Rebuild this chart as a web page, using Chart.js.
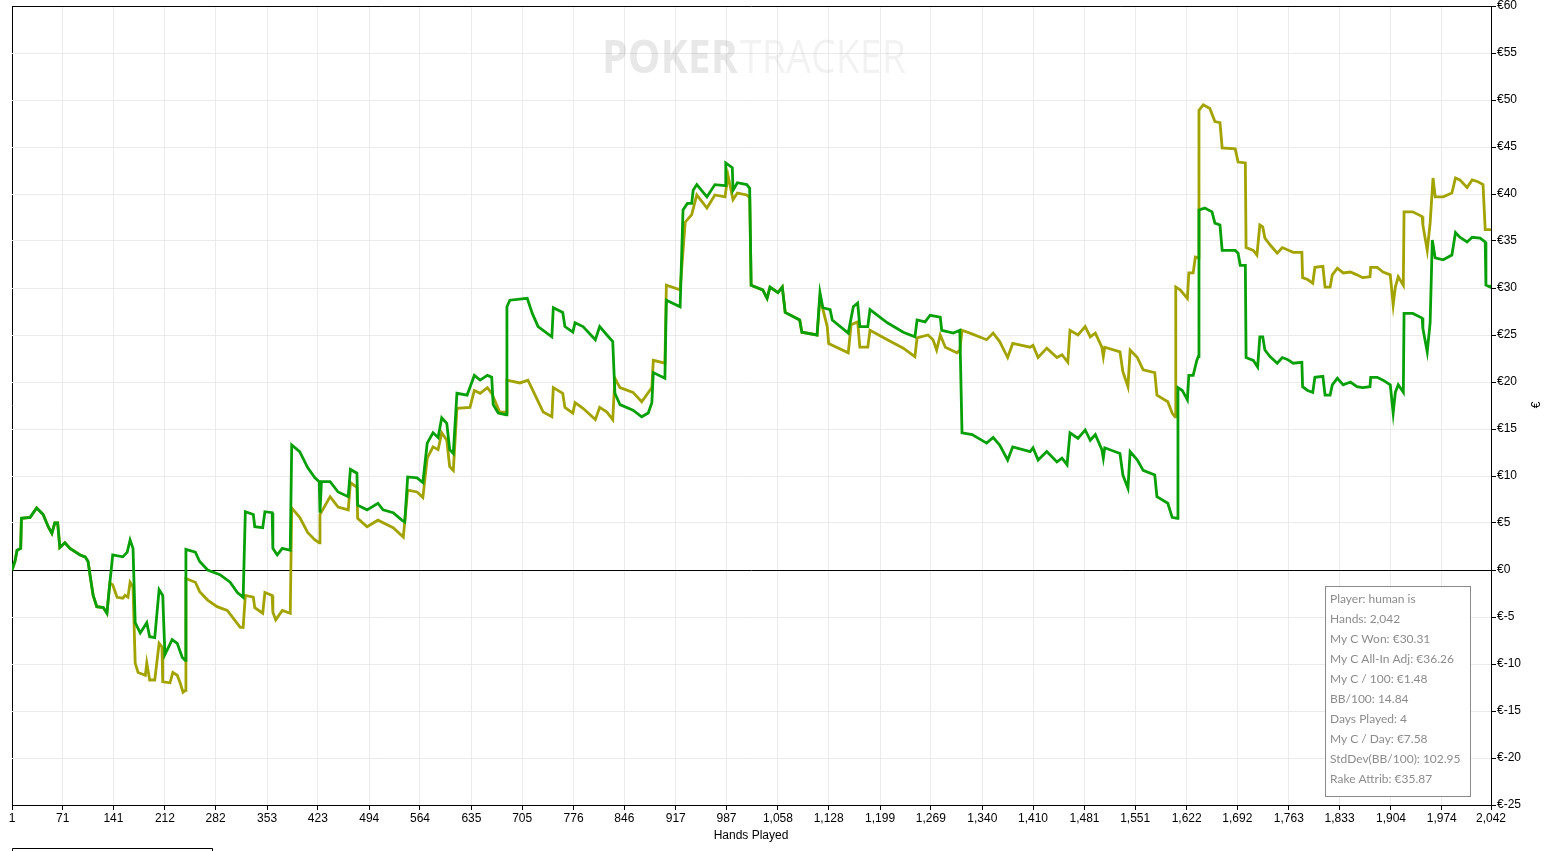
<!DOCTYPE html>
<html>
<head>
<meta charset="utf-8">
<script src="https://cdn.jsdelivr.net/npm/chart.js@4.4.1/dist/chart.umd.min.js"></script>
<style>
html, body { margin: 0; padding: 0; background: #fff; }
#wrap { width: 1554px; height: 851px; }
</style>
</head>
<body>
<div id="wrap"><canvas id="myChart" width="1554" height="851"></canvas></div>
<script>
// x-axis tick labels (hands)
var xTicks = [1, 71, 141, 212, 282, 353, 423, 494, 564, 635, 705, 776, 846, 917, 987,
  1058, 1128, 1199, 1269, 1340, 1410, 1481, 1551, 1622, 1692, 1763, 1833, 1904, 1974, 2042];

// My C Won (green)
var wonHands = [
  1, 5, 8, 13, 14, 26, 35, 44, 51, 56,
  60, 64, 67, 74, 81, 95, 102, 106, 109, 113,
  118, 127, 132, 136, 140, 154, 160, 164, 168, 171,
  178, 187, 191, 198, 204, 209, 212, 222, 229, 236,
  240, 241, 254, 260, 271, 288, 302, 312, 320, 323,
  334, 336, 347, 350, 360, 361, 367, 374, 385, 387,
  398, 409, 419, 425, 426, 428, 440, 451, 465, 468,
  477, 478, 491, 506, 513, 527, 539, 543, 547, 560,
  568, 574, 582, 589, 594, 601, 605, 610, 615, 629,
  639, 647, 657, 663, 665, 672, 683, 684, 688, 712,
  719, 727, 746, 748, 761, 764, 775, 778, 789, 806,
  812, 822, 830, 833, 840, 858, 870, 879, 884, 886,
  902, 904, 923, 927, 933, 939, 941, 946, 960, 971,
  985, 986, 995, 996, 1002, 1015, 1019, 1021, 1037, 1043,
  1047, 1058, 1064, 1068, 1088, 1091, 1112, 1116, 1120, 1130,
  1133, 1155, 1162, 1168, 1171, 1182, 1185, 1209, 1231, 1247,
  1250, 1261, 1268, 1282, 1284, 1300, 1309, 1312, 1326, 1346,
  1355, 1364, 1375, 1382, 1406, 1410, 1417, 1429, 1443, 1450,
  1457, 1461, 1472, 1482, 1489, 1496, 1505, 1507, 1509, 1530,
  1534, 1541, 1544, 1554, 1562, 1578, 1581, 1596, 1602, 1609,
  1610, 1616, 1623, 1625, 1631, 1636, 1638, 1639, 1647, 1657,
  1661, 1668, 1671, 1689, 1693, 1696, 1703, 1704, 1714, 1720,
  1723, 1727, 1730, 1737, 1747, 1754, 1761, 1769, 1781, 1782,
  1789, 1796, 1799, 1810, 1813, 1820, 1823, 1830, 1838, 1848,
  1857, 1865, 1875, 1876, 1885, 1893, 1903, 1907, 1910, 1914,
  1921, 1922, 1934, 1947, 1948, 1954, 1958, 1961, 1965, 1976,
  1988, 1993, 1999, 2009, 2016, 2027, 2034, 2035, 2041, 2042
];
var wonValues = [
  0, 0.9, 2.1, 2.3, 5.5, 5.6, 6.6, 5.9, 4.6, 3.9,
  5.0, 5.0, 2.4, 2.9, 2.3, 1.6, 1.4, 0.9, -0.7, -2.7,
  -3.9, -4.0, -4.6, -1.4, 1.6, 1.4, 1.9, 3.2, 2.3, -5.6,
  -6.7, -5.6, -7.1, -7.2, -2.1, -2.7, -9.0, -7.4, -7.8, -9.3,
  -9.6, 2.2, 1.9, 0.9, 0, -0.5, -1.3, -2.4, -2.9, 6.2,
  5.9, 4.6, 4.5, 6.2, 6.1, 2.3, 1.6, 2.3, 2.1, 13.3,
  12.6, 10.9, 9.8, 9.4, 6.1, 9.4, 9.4, 8.3, 7.8, 10.7,
  10.3, 6.9, 6.4, 7.1, 6.4, 6.1, 5.3, 5.1, 9.9, 9.8,
  9.3, 13.5, 14.6, 14.1, 16.2, 15.6, 12.8, 12.4, 18.8, 18.6,
  20.7, 20.2, 20.7, 20.5, 17.6, 16.7, 16.5, 28.0, 28.7, 28.9,
  27.3, 25.9, 24.8, 27.9, 27.4, 25.9, 25.3, 26.3, 25.9, 24.5,
  25.9, 25.0, 24.3, 18.8, 17.6, 17.0, 16.3, 16.7, 17.8, 21.0,
  20.4, 28.7, 28.0, 38.3, 39.0, 39.0, 40.4, 41.0, 39.7, 41.0,
  40.9, 43.3, 42.8, 40.4, 41.2, 41.0, 40.6, 30.3, 29.8, 28.9,
  30.1, 29.5, 30.1, 27.4, 26.6, 25.3, 25.0, 29.5, 27.9, 27.7,
  26.6, 25.2, 28.0, 28.4, 25.9, 25.9, 27.7, 26.3, 25.3, 24.8,
  26.6, 26.4, 27.1, 26.9, 25.5, 25.2, 25.5, 14.6, 14.4, 13.5,
  14.1, 13.3, 11.7, 13.1, 12.6, 13.0, 11.7, 12.6, 11.5, 11.9,
  11.2, 14.6, 14.0, 14.9, 13.8, 14.4, 12.8, 11.9, 13.0, 12.4,
  10.1, 8.7, 12.6, 11.7, 10.6, 10.1, 7.8, 7.1, 5.6, 5.5,
  19.4, 19.1, 18.1, 20.7, 20.7, 22.3, 22.7, 38.3, 38.5, 38.1,
  36.9, 36.7, 34.0, 34.0, 33.7, 32.4, 32.4, 22.6, 22.3, 21.6,
  24.8, 24.8, 23.4, 22.7, 22.0, 22.6, 22.4, 22.0, 22.1, 19.5,
  19.1, 18.9, 20.5, 20.6, 18.6, 18.6, 19.7, 20.4, 19.7, 20.0,
  19.5, 19.4, 19.5, 20.5, 20.5, 20.2, 19.7, 16.7, 18.9, 19.7,
  18.9, 27.3, 27.3, 26.8, 25.7, 23.2, 26.3, 35.1, 33.2, 33.0,
  33.5, 35.9, 35.4, 34.9, 35.4, 35.3, 34.9, 30.3, 30.1, 30.31
];

// My C All-In Adj (olive)
var adjHands = [
  1, 5, 8, 13, 14, 26, 35, 44, 51, 56,
  60, 64, 67, 74, 81, 95, 102, 106, 109, 113,
  118, 127, 132, 136, 140, 146, 154, 157, 161, 164,
  168, 171, 175, 185, 187, 191, 198, 204, 208, 209,
  219, 223, 229, 233, 237, 240, 241, 254, 260, 271,
  284, 298, 306, 316, 320, 323, 334, 336, 347, 350,
  360, 361, 365, 374, 385, 387, 398, 409, 419, 425,
  426, 440, 451, 465, 468, 477, 478, 491, 506, 527,
  541, 547, 560, 568, 574, 582, 589, 594, 601, 605,
  610, 615, 633, 639, 647, 657, 663, 674, 683, 684,
  702, 713, 726, 734, 746, 748, 761, 764, 775, 778,
  789, 806, 812, 822, 830, 833, 840, 858, 870, 884,
  886, 902, 904, 923, 930, 939, 946, 960, 971, 985,
  989, 996, 1002, 1015, 1019, 1021, 1037, 1043, 1047, 1058,
  1064, 1068, 1088, 1091, 1112, 1116, 1126, 1128, 1155, 1159,
  1168, 1171, 1182, 1185, 1209, 1231, 1247, 1250, 1265, 1272,
  1277, 1282, 1289, 1305, 1309, 1312, 1323, 1346, 1355, 1364,
  1375, 1382, 1406, 1410, 1417, 1429, 1443, 1450, 1458, 1461,
  1472, 1482, 1489, 1496, 1505, 1507, 1509, 1530, 1534, 1541,
  1544, 1554, 1562, 1578, 1581, 1596, 1602, 1606, 1607, 1613,
  1623, 1625, 1631, 1634, 1638, 1639, 1645, 1654, 1661, 1668,
  1671, 1689, 1693, 1703, 1704, 1714, 1719, 1723, 1727, 1730,
  1737, 1747, 1754, 1769, 1781, 1782, 1789, 1796, 1799, 1810,
  1813, 1820, 1823, 1830, 1838, 1848, 1857, 1865, 1875, 1876,
  1885, 1893, 1903, 1907, 1910, 1914, 1921, 1922, 1934, 1947,
  1948, 1954, 1958, 1962, 1965, 1976, 1988, 1993, 1999, 2009,
  2016, 2024, 2031, 2034, 2041, 2042
];
var adjValues = [
  0, 0.9, 2.1, 2.3, 5.5, 5.6, 6.6, 5.9, 4.6, 3.9,
  5.0, 5.0, 2.4, 2.9, 2.3, 1.6, 1.4, 0.9, -0.7, -2.7,
  -3.9, -4.0, -4.6, -1.4, -1.6, -2.9, -3.0, -2.7, -2.9, -1.3,
  -1.8, -9.9, -10.9, -11.2, -9.9, -11.7, -11.7, -7.8, -8.2, -11.9,
  -12.0, -10.9, -11.2, -12.0, -13.0, -12.8, -0.9, -1.3, -2.3, -3.2,
  -3.9, -4.3, -5.1, -6.1, -6.1, -2.7, -2.9, -4.0, -4.6, -2.4,
  -2.7, -4.5, -5.3, -4.3, -4.6, 6.6, 5.6, 4.0, 3.2, 2.9,
  5.9, 7.8, 6.7, 6.4, 9.3, 8.8, 5.5, 4.6, 5.3, 4.5,
  3.5, 8.5, 8.3, 7.7, 11.9, 13.1, 12.8, 14.6, 13.8, 11.0,
  10.6, 17.2, 17.3, 19.1, 18.8, 19.4, 18.8, 16.8, 16.8, 20.2,
  19.9, 20.2, 18.1, 16.8, 16.3, 19.4, 18.8, 17.3, 16.7, 17.8,
  17.2, 16.0, 17.3, 16.8, 16.0, 20.4, 19.4, 18.9, 17.9, 19.4,
  22.3, 22.0, 30.3, 29.8, 37.0, 37.8, 39.9, 38.5, 39.9, 39.7,
  42.0, 39.4, 40.1, 39.9, 39.6, 30.3, 29.8, 28.9, 30.1, 29.5,
  30.1, 27.4, 26.6, 25.3, 25.0, 29.0, 25.9, 24.1, 23.1, 26.1,
  26.4, 23.7, 23.7, 25.5, 24.5, 23.6, 22.7, 24.7, 25.0, 24.5,
  23.4, 25.0, 23.7, 23.1, 23.4, 25.5, 25.2, 24.5, 25.2, 24.3,
  22.6, 24.1, 23.7, 23.9, 22.6, 23.6, 22.6, 22.9, 22.1, 25.5,
  25.0, 25.9, 24.8, 25.2, 23.7, 22.7, 23.7, 23.2, 21.1, 19.5,
  23.4, 22.6, 21.3, 21.0, 18.6, 17.9, 16.7, 16.3, 30.1, 29.8,
  28.9, 31.6, 31.6, 33.3, 33.2, 48.9, 49.5, 49.1, 47.7, 47.6,
  44.9, 44.8, 43.4, 43.3, 34.3, 34.0, 33.5, 36.7, 36.5, 35.3,
  34.6, 33.7, 34.3, 33.8, 33.8, 31.1, 30.9, 30.5, 32.2, 32.3,
  30.1, 30.1, 31.4, 32.1, 31.6, 31.7, 31.4, 31.1, 31.2, 32.2,
  32.2, 31.7, 31.4, 28.2, 30.1, 31.2, 30.3, 38.1, 38.1, 37.6,
  36.7, 34.0, 36.9, 41.7, 39.7, 39.7, 40.1, 41.7, 41.5, 40.7,
  41.5, 41.3, 41.0, 36.2, 36.2, 36.26
];

var statLines = [
  'Player: human is',
  'Hands: 2,042',
  'My C Won: €30.31',
  'My C All-In Adj: €36.26',
  'My C / 100: €1.48',
  'BB/100: 14.84',
  'Days Played: 4',
  'My C / Day: €7.58',
  'StdDev(BB/100): 102.95',
  'Rake Attrib: €35.87'
];

function toPoints(xs, ys) {
  var pts = [];
  for (var i = 0; i < xs.length; i++) {
    pts.push({ x: xs[i], y: ys[i] });
  }
  return pts;
}

function fitText(ctx, text, x, y, w) {
  var m = ctx.measureText(text).width;
  ctx.save();
  ctx.translate(x, y);
  ctx.scale(w / m, 1);
  ctx.fillText(text, 0, 0);
  ctx.restore();
}

var extras = {
  id: 'extras',
  beforeDatasetsDraw: function(chart) {
    var ctx = chart.ctx;
    ctx.save();
    ctx.textBaseline = 'alphabetic';
    ctx.textAlign = 'left';
    ctx.fillStyle = 'rgba(0,0,0,0.09)';
    ctx.font = 'bold 46px "Open Sans"';
    fitText(ctx, 'POKER', 602, 73, 136);
    ctx.fillStyle = 'rgba(0,0,0,0.05)';
    ctx.font = '46px "Open Sans"';
    fitText(ctx, 'TRACKER', 740, 73, 166);
    ctx.restore();
  },
  afterDraw: function(chart) {
    var ctx = chart.ctx;
    ctx.save();

    // stats box
    ctx.fillStyle = '#fff';
    ctx.fillRect(1325, 586, 145, 210);
    ctx.strokeStyle = '#8a8a8a';
    ctx.lineWidth = 1;
    ctx.strokeRect(1325.5, 586.5, 145, 210);
    ctx.fillStyle = '#8c8c8c';
    ctx.font = '12px Lato';
    ctx.textBaseline = 'middle';
    ctx.textAlign = 'left';
    for (var i = 0; i < statLines.length; i++) {
      ctx.fillText(statLines[i], 1330, 599 + i * 20);
    }

    // axis titles
    ctx.fillStyle = '#000';
    ctx.font = '12px "Liberation Sans"';
    ctx.textAlign = 'center';
    ctx.fillText('Hands Played', 751, 836);
    ctx.save();
    ctx.translate(1537, 405);
    ctx.rotate(-Math.PI / 2);
    ctx.fillText('€', 0, 0);
    ctx.restore();

    // cut-off box at the bottom left
    ctx.strokeStyle = '#000';
    ctx.beginPath();
    ctx.moveTo(12.5, 860);
    ctx.lineTo(12.5, 848.5);
    ctx.lineTo(212.5, 848.5);
    ctx.lineTo(212.5, 860);
    ctx.stroke();
    ctx.restore();
  }
};

Chart.defaults.font.family = '"Liberation Sans", Arial, sans-serif';
Chart.defaults.font.size = 12;
Chart.defaults.color = '#000';

var ctx = document.getElementById('myChart').getContext('2d');
var myChart = new Chart(ctx, {
  type: 'line',
  data: {
    datasets: [{
      label: 'My C Won',
      data: toPoints(wonHands, wonValues),
      borderColor: '#08a008',
      borderWidth: 2.8,
      pointRadius: 0,
      tension: 0,
      fill: false
    }, {
      label: 'My C All-In Adj',
      data: toPoints(adjHands, adjValues),
      borderColor: '#a3a300',
      borderWidth: 2.8,
      pointRadius: 0,
      tension: 0,
      fill: false
    }]
  },
  options: {
    responsive: false,
    animation: false,
    layout: { padding: { left: 12, top: 6, right: 0, bottom: 0 } },
    plugins: {
      legend: { display: false },
      tooltip: { enabled: false }
    },
    scales: {
      x: {
        type: 'linear',
        min: 1,
        max: 2042,
        afterBuildTicks: function(scale) {
          scale.ticks = xTicks.map(function(v) { return { value: v }; });
        },
        afterFit: function(scale) {
          scale.height = 46;
          scale.paddingLeft = 0;
          scale.paddingRight = 0;
        },
        ticks: {
          autoSkip: false,
          maxRotation: 0,
          padding: 1,
          callback: function(v) { return v.toLocaleString('en-US'); }
        },
        grid: {
          color: function(c) { return c.tick && c.tick.value === 1 ? '#000' : '#ebebeb'; },
          tickColor: '#000',
          tickLength: 5
        },
        border: { color: '#000' }
      },
      y: {
        position: 'right',
        min: -25,
        max: 60,
        afterFit: function(scale) {
          scale.width = 63;
          scale.paddingTop = 0;
          scale.paddingBottom = 0;
        },
        ticks: {
          stepSize: 5,
          padding: 1,
          callback: function(v) { return '€' + v; }
        },
        grid: {
          color: function(c) {
            return c.tick && (c.tick.value === 0 || c.tick.value === 60) ? '#000' : '#ebebeb';
          },
          tickColor: '#000',
          tickLength: 5
        },
        border: { color: '#000' }
      }
    }
  },
  plugins: [extras]
});
</script>
</body>
</html>
